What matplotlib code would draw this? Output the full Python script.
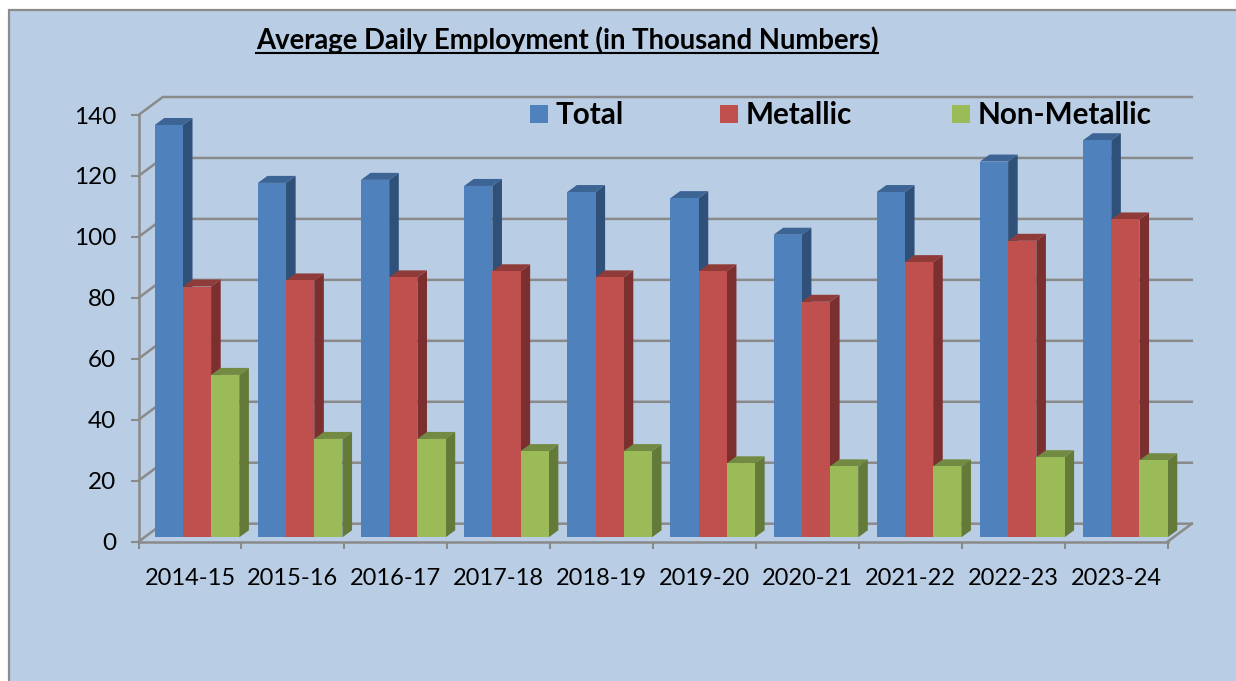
import matplotlib
matplotlib.use('Agg')
import matplotlib.pyplot as plt
from matplotlib.patches import Rectangle
from matplotlib.lines import Line2D

years = ['2014-15', '2015-16', '2016-17', '2017-18', '2018-19',
         '2019-20', '2020-21', '2021-22', '2022-23', '2023-24']
total = [136, 117, 118, 116, 114, 112, 100, 114, 124, 131]
metallic = [83, 85, 86, 88, 86, 88, 78, 91, 98, 105]
non_metallic = [54, 33, 33, 29, 29, 25, 24, 24, 27, 26]
y_ticks = [0, 20, 40, 60, 80, 100, 120, 140]
series_names = ['Total', 'Metallic', 'Non-Metallic']

W, H = 1236, 681
GREY = '#8a8a8a'
PANEL = '#b9cde5'
# front, top, side
BLUE = ('#4f81bd', '#3c6494', '#2f5079')
RED = ('#c0504d', '#8f3b39', '#7b2f2e')
GREEN = ('#9bbb59', '#728a42', '#647a38')

plt.rcParams['font.family'] = ['Lato', 'DejaVu Sans']

fig = plt.figure(figsize=(W / 100, H / 100), dpi=100, facecolor='white')


def fx(px):
    return px / W


def fy(py):
    return 1 - py / H


# panel behind everything, runs off the right and bottom edge
fig.add_artist(Rectangle((fx(9), fy(H + 5)), fx(W + 5 - 9), fy(10) - fy(H + 5),
                         transform=fig.transFigure, facecolor=PANEL,
                         edgecolor='#8c8c8c', linewidth=1.6, zorder=-1))

ax_left, ax_right, ax_top, ax_bottom = 138.5, 1167.5, 115.0, 541.7
ax = fig.add_axes([fx(ax_left), fy(ax_bottom), fx(ax_right - ax_left), fy(ax_top) - fy(ax_bottom)])
ax.set_xlim(0, len(years))
ax.set_ylim(0, 140)
ax.patch.set_visible(False)

unit_x = (ax_right - ax_left) / len(years)
unit_y = (ax_bottom - ax_top) / 140

# 3d offsets, px converted to data units
wall_dx, wall_dy = 24.3 / unit_x, 18 / unit_y
depth_dx, depth_dy = 9.6 / unit_x, 7 / unit_y
bar_start = 16.2 / unit_x
bar_step = 103.15 / unit_x
bar_w = 28.2 / unit_x
bar_base = 4.4 / unit_y
bar_lift = 2.2 / unit_y

# walls and gridlines
for v in y_ticks:
    ax.plot([0, wall_dx, len(years) + wall_dx], [v, v + wall_dy, v + wall_dy],
            color=GREY, lw=1.8, clip_on=False, zorder=1, solid_joinstyle='miter')
ax.plot([len(years), len(years) + wall_dx], [0, wall_dy], color=GREY, lw=1.8, clip_on=False, zorder=1)


def draw_bar(x, value, colors):
    front, top, side = colors
    y0, y1 = bar_base, value + bar_lift
    x1 = x + bar_w
    ax.fill([x1, x1 + depth_dx, x1 + depth_dx, x1],
            [y0, y0 + depth_dy, y1 + depth_dy, y1], color=side, lw=0, zorder=3, clip_on=False)
    ax.fill([x, x + depth_dx, x1 + depth_dx, x1],
            [y1, y1 + depth_dy, y1 + depth_dy, y1], color=top, lw=0, zorder=3, clip_on=False)
    ax.fill([x, x1, x1, x], [y0, y0, y1, y1], color=front, lw=0, zorder=3, clip_on=False)


for i in range(len(years)):
    for k, (vals, colors) in enumerate(zip([total, metallic, non_metallic], [BLUE, RED, GREEN])):
        draw_bar(i * bar_step + bar_start + k * bar_w, vals[i], colors)

for name in ['top', 'right']:
    ax.spines[name].set_visible(False)
for name in ['left', 'bottom']:
    ax.spines[name].set_color(GREY)
    ax.spines[name].set_linewidth(1.8)
    ax.spines[name].set_zorder(4)

ax.set_yticks(y_ticks)
ax.set_xticks(range(len(years) + 1))
ax.set_xticklabels([])
ax.set_xticks([i + 0.5 for i in range(len(years))], minor=True)
ax.set_xticklabels(years, minor=True, fontsize=17, color='black')
ax.tick_params(axis='x', which='major', length=5, width=1.5, color=GREY)
ax.tick_params(axis='x', which='minor', length=0, pad=19)
ax.tick_params(axis='y', length=5.5, width=1.5, color=GREY, labelsize=17.5, pad=10.5)

# title, underlined by hand
title = fig.text(fx(567), fy(40), 'Average Daily Employment (in Thousand Numbers)',
                 fontsize=19.8, fontweight='bold', ha='center', va='center', color='black')
fig.canvas.draw()
bb = title.get_window_extent()
fig.add_artist(Line2D([bb.x0 / W, bb.x1 / W], [fy(53), fy(53)], color='black', lw=1.5))

# legend
legend_colors = [BLUE[0], RED[0], GREEN[0]]
for name, color, sq_x in zip(series_names, legend_colors, [530, 720, 952]):
    fig.add_artist(Rectangle((fx(sq_x), fy(123)), fx(18), fy(105) - fy(123),
                             transform=fig.transFigure, facecolor=color, edgecolor='none'))
    fig.text(fx(sq_x + 26), fy(115), name, fontsize=21.3, fontweight='bold',
             ha='left', va='center', color='black')

fig.savefig('out.png', dpi=100)
